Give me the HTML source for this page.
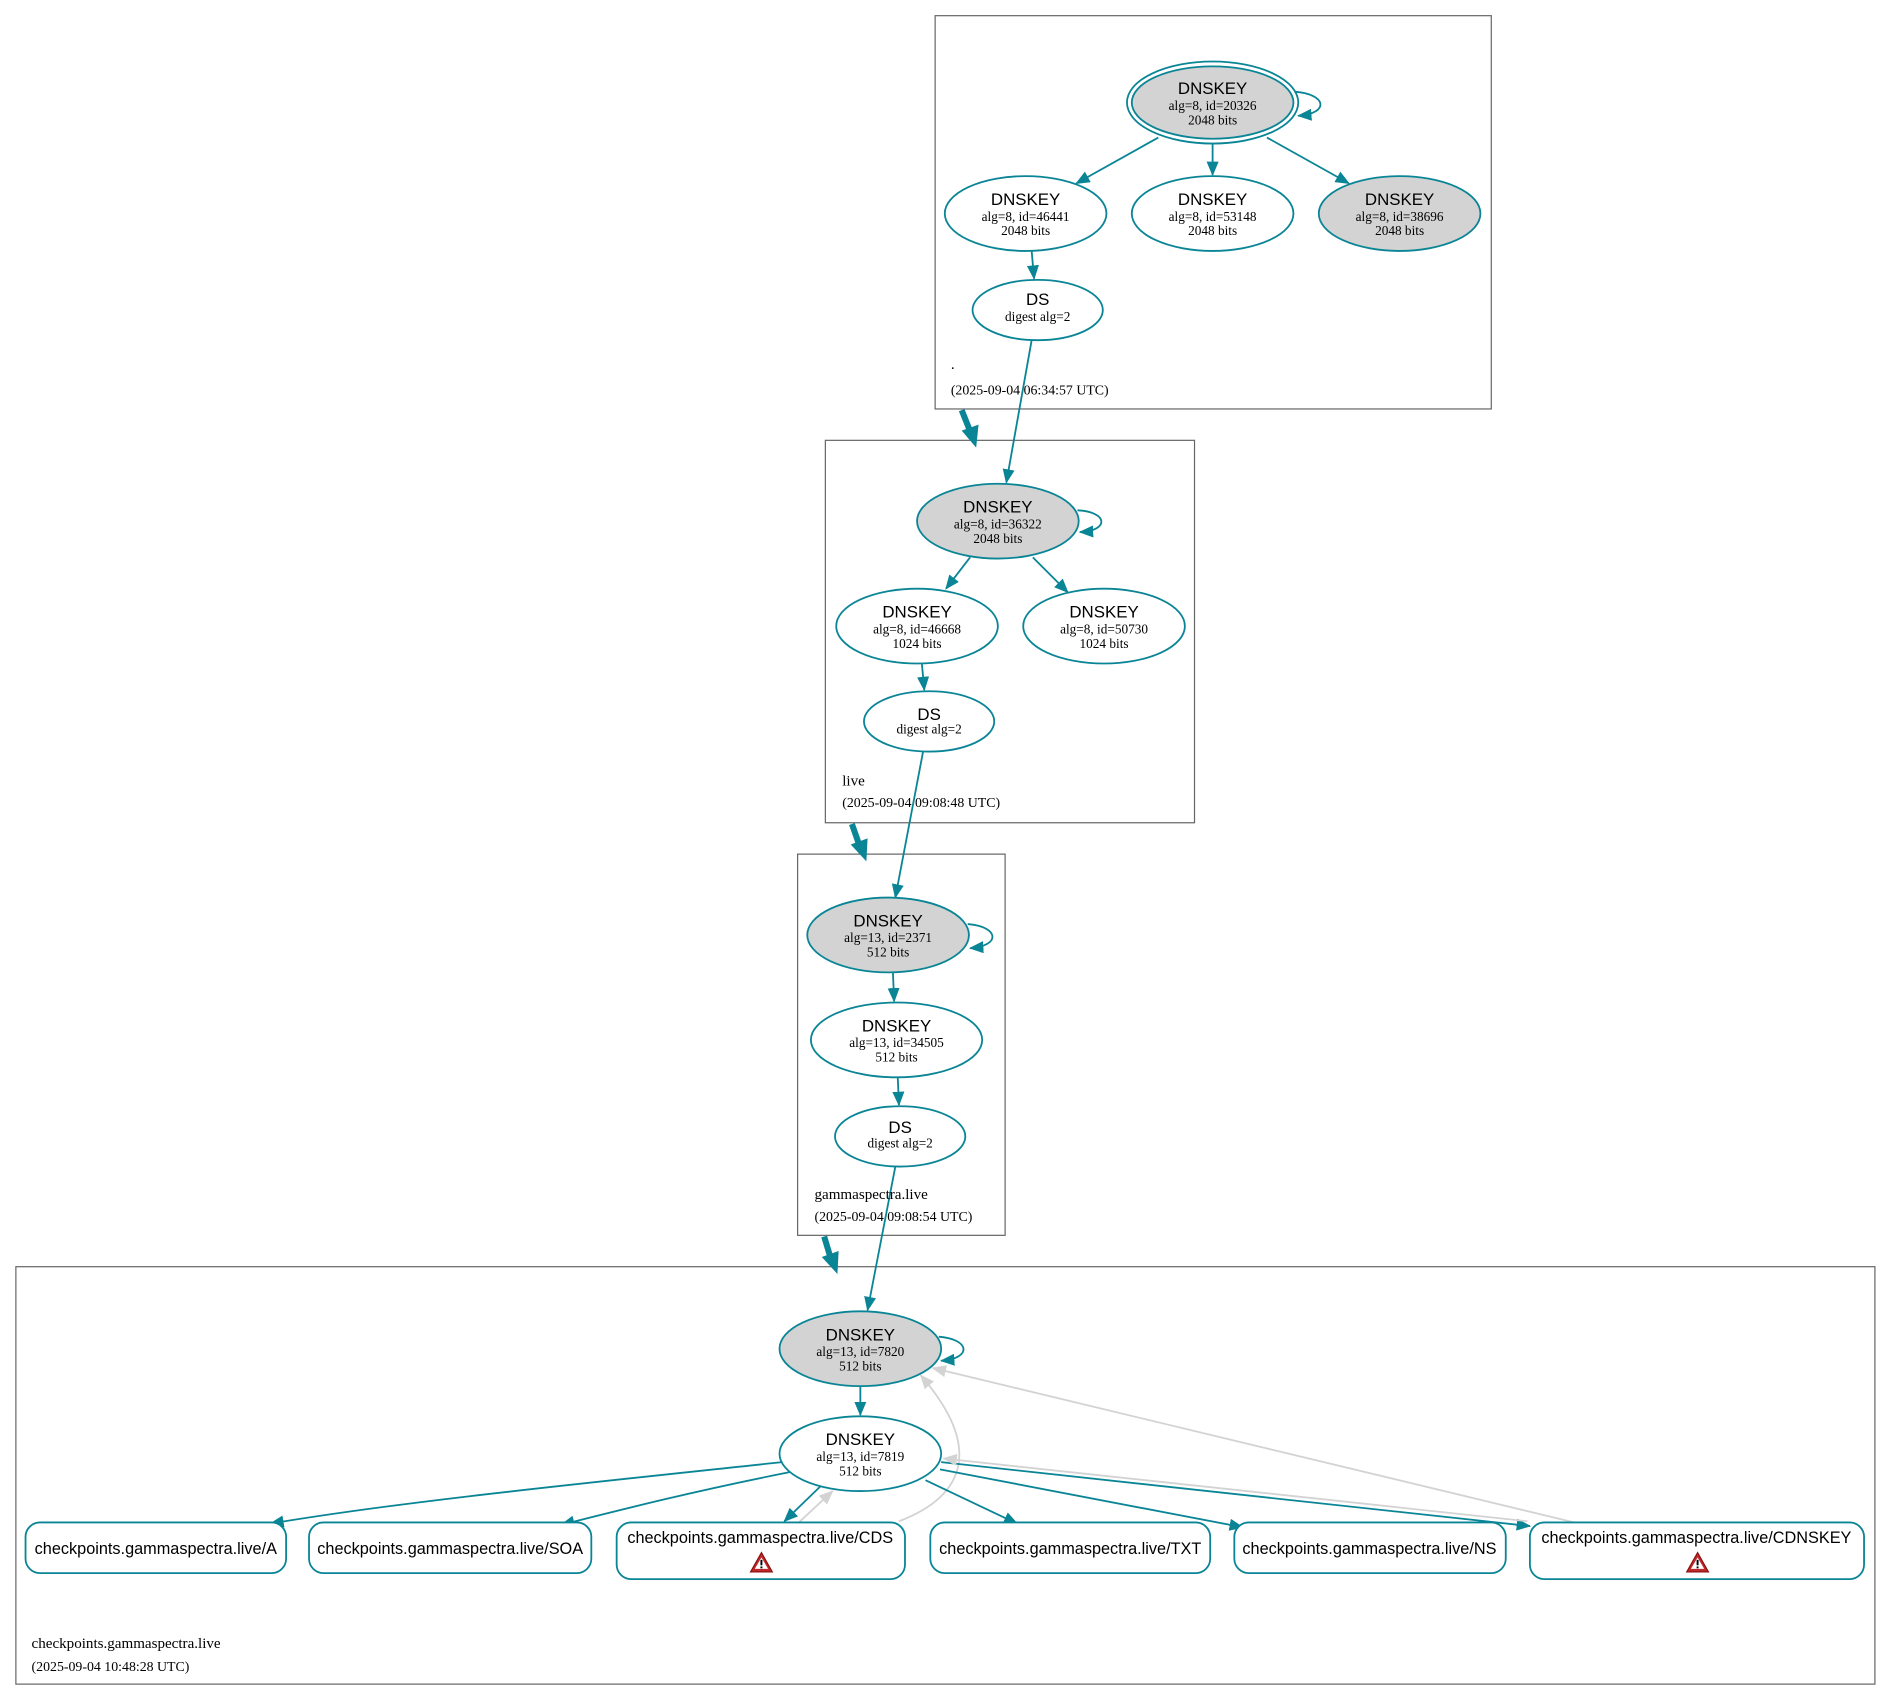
<!DOCTYPE html>
<html><head><meta charset="utf-8"><style>
html,body{margin:0;padding:0;background:#fff;}
svg{display:block;}
.k{font-family:"Liberation Sans",sans-serif;font-size:14px;fill:#000;}
.d{font-family:"Liberation Serif",serif;font-size:11px;fill:#000;}
.c{font-family:"Liberation Serif",serif;font-size:12.5px;fill:#000;}
.cs{font-family:"Liberation Serif",serif;font-size:11.5px;fill:#000;}
.r{font-family:"Liberation Sans",sans-serif;font-size:13.5px;fill:#000;}
.e{fill:none;stroke:#0a8596;stroke-width:1.5;}
.g{fill:none;stroke:#d3d3d3;stroke-width:1.5;}
.n{fill:#fff;stroke:#0a8596;stroke-width:1.5;}
.ng{fill:#d3d3d3;stroke:#0a8596;stroke-width:1.5;}
.cl{fill:none;stroke:#666;stroke-width:1;}
</style></head><body>
<svg width="1892" height="1701" viewBox="0 0 1568 1410" xmlns="http://www.w3.org/2000/svg">
<defs>
<marker id="a" markerWidth="12" markerHeight="10" refX="11" refY="5" orient="auto" markerUnits="userSpaceOnUse"><polygon points="0,0 12,5 0,10" fill="#0a8596"/></marker>
<marker id="ag" markerWidth="12" markerHeight="10" refX="11" refY="5" orient="auto" markerUnits="userSpaceOnUse"><polygon points="0,0 12,5 0,10" fill="#d3d3d3"/></marker>
</defs>
<rect width="1568" height="1410" fill="#fff"/>
<rect class="cl" x="775" y="13" width="461" height="326"/>
<rect class="cl" x="684" y="365" width="306" height="317"/>
<rect class="cl" x="661" y="708" width="172" height="316"/>
<rect class="cl" x="13" y="1050" width="1541" height="346"/>
<line x1="797" y1="340" x2="805" y2="360" stroke="#0a8596" stroke-width="5"/>
<polygon points="797,357 811,352 809,371" fill="#0a8596"/>
<line x1="706" y1="683" x2="713" y2="703" stroke="#0a8596" stroke-width="5"/>
<polygon points="705,700 719,695 718,714" fill="#0a8596"/>
<line x1="683" y1="1025" x2="689" y2="1045" stroke="#0a8596" stroke-width="5"/>
<polygon points="681,1042 695,1037 694,1056" fill="#0a8596"/>
<path class="e" d="M1073,76 C1100,78 1102,94 1076,96" marker-end="url(#a)"/>
<line class="e" x1="960" y1="114" x2="892" y2="152" marker-end="url(#a)"/>
<line class="e" x1="1005" y1="119" x2="1005" y2="145" marker-end="url(#a)"/>
<line class="e" x1="1050" y1="114" x2="1118" y2="152" marker-end="url(#a)"/>
<line class="e" x1="855" y1="208" x2="857" y2="231" marker-end="url(#a)"/>
<line class="e" x1="855" y1="282" x2="834" y2="400" marker-end="url(#a)"/>
<path class="e" d="M893,423 C918,424 920,440 895,441" marker-end="url(#a)"/>
<line class="e" x1="804" y1="462" x2="784" y2="488" marker-end="url(#a)"/>
<line class="e" x1="856" y1="462" x2="885" y2="491" marker-end="url(#a)"/>
<line class="e" x1="764" y1="550" x2="766" y2="572" marker-end="url(#a)"/>
<line class="e" x1="765" y1="623" x2="742" y2="744" marker-end="url(#a)"/>
<path class="e" d="M802,766 C828,768 830,784 804,786" marker-end="url(#a)"/>
<line class="e" x1="740" y1="806" x2="741" y2="830" marker-end="url(#a)"/>
<line class="e" x1="744" y1="893" x2="745" y2="916" marker-end="url(#a)"/>
<line class="e" x1="742" y1="967" x2="719" y2="1086" marker-end="url(#a)"/>
<path class="e" d="M778,1108 C804,1110 806,1126 780,1128" marker-end="url(#a)"/>
<line class="e" x1="713" y1="1149" x2="713" y2="1173" marker-end="url(#a)"/>
<path class="e" d="M648,1212 C480,1230 330,1245 224,1263" marker-end="url(#a)"/>
<path class="e" d="M656,1220 C580,1235 520,1250 465,1264" marker-end="url(#a)"/>
<line class="e" x1="680" y1="1232" x2="650" y2="1261" marker-end="url(#a)"/>
<path class="g" d="M662,1262 L690,1236" marker-end="url(#ag)"/>
<path class="g" d="M745,1261 C800,1240 815,1200 763,1140" marker-end="url(#ag)"/>
<line class="e" x1="767" y1="1227" x2="843" y2="1263" marker-end="url(#a)"/>
<line class="e" x1="779" y1="1218" x2="1030" y2="1266" marker-end="url(#a)"/>
<line class="e" x1="780" y1="1212" x2="1268" y2="1265" marker-end="url(#a)"/>
<line class="g" x1="1266" y1="1261" x2="782" y2="1209" marker-end="url(#ag)"/>
<line class="g" x1="1305" y1="1262" x2="773" y2="1134" marker-end="url(#ag)"/>
<ellipse cx="1005" cy="85" rx="71" ry="34" fill="none" stroke="#0a8596" stroke-width="1.5"/>
<ellipse class="ng" cx="1005" cy="85" rx="67" ry="30"/>
<text class="k" x="1005" y="78" text-anchor="middle">DNSKEY</text>
<text class="d" x="1005" y="91" text-anchor="middle">alg=8, id=20326</text>
<text class="d" x="1005" y="103" text-anchor="middle">2048 bits</text>
<ellipse class="n" cx="850" cy="177" rx="67" ry="31"/>
<text class="k" x="850" y="170" text-anchor="middle">DNSKEY</text>
<text class="d" x="850" y="183" text-anchor="middle">alg=8, id=46441</text>
<text class="d" x="850" y="195" text-anchor="middle">2048 bits</text>
<ellipse class="n" cx="1005" cy="177" rx="67" ry="31"/>
<text class="k" x="1005" y="170" text-anchor="middle">DNSKEY</text>
<text class="d" x="1005" y="183" text-anchor="middle">alg=8, id=53148</text>
<text class="d" x="1005" y="195" text-anchor="middle">2048 bits</text>
<ellipse class="ng" cx="1160" cy="177" rx="67" ry="31"/>
<text class="k" x="1160" y="170" text-anchor="middle">DNSKEY</text>
<text class="d" x="1160" y="183" text-anchor="middle">alg=8, id=38696</text>
<text class="d" x="1160" y="195" text-anchor="middle">2048 bits</text>
<ellipse class="n" cx="860" cy="257" rx="54" ry="25"/>
<text class="k" x="860" y="253" text-anchor="middle">DS</text>
<text class="d" x="860" y="266" text-anchor="middle">digest alg=2</text>
<text class="c" x="788" y="306">.</text>
<text class="cs" x="788" y="327">(2025-09-04 06:34:57 UTC)</text>
<ellipse class="ng" cx="827" cy="432" rx="67" ry="31"/>
<text class="k" x="827" y="425" text-anchor="middle">DNSKEY</text>
<text class="d" x="827" y="438" text-anchor="middle">alg=8, id=36322</text>
<text class="d" x="827" y="450" text-anchor="middle">2048 bits</text>
<ellipse class="n" cx="760" cy="519" rx="67" ry="31"/>
<text class="k" x="760" y="512" text-anchor="middle">DNSKEY</text>
<text class="d" x="760" y="525" text-anchor="middle">alg=8, id=46668</text>
<text class="d" x="760" y="537" text-anchor="middle">1024 bits</text>
<ellipse class="n" cx="915" cy="519" rx="67" ry="31"/>
<text class="k" x="915" y="512" text-anchor="middle">DNSKEY</text>
<text class="d" x="915" y="525" text-anchor="middle">alg=8, id=50730</text>
<text class="d" x="915" y="537" text-anchor="middle">1024 bits</text>
<ellipse class="n" cx="770" cy="598" rx="54" ry="25"/>
<text class="k" x="770" y="597" text-anchor="middle">DS</text>
<text class="d" x="770" y="608" text-anchor="middle">digest alg=2</text>
<text class="c" x="698" y="651">live</text>
<text class="cs" x="698" y="669">(2025-09-04 09:08:48 UTC)</text>
<ellipse class="ng" cx="736" cy="775" rx="67" ry="31"/>
<text class="k" x="736" y="768" text-anchor="middle">DNSKEY</text>
<text class="d" x="736" y="781" text-anchor="middle">alg=13, id=2371</text>
<text class="d" x="736" y="793" text-anchor="middle">512 bits</text>
<ellipse class="n" cx="743" cy="862" rx="71" ry="31"/>
<text class="k" x="743" y="855" text-anchor="middle">DNSKEY</text>
<text class="d" x="743" y="868" text-anchor="middle">alg=13, id=34505</text>
<text class="d" x="743" y="880" text-anchor="middle">512 bits</text>
<ellipse class="n" cx="746" cy="942" rx="54" ry="25"/>
<text class="k" x="746" y="939" text-anchor="middle">DS</text>
<text class="d" x="746" y="951" text-anchor="middle">digest alg=2</text>
<text class="c" x="675" y="994">gammaspectra.live</text>
<text class="cs" x="675" y="1012">(2025-09-04 09:08:54 UTC)</text>
<ellipse class="ng" cx="713" cy="1118" rx="67" ry="31"/>
<text class="k" x="713" y="1111" text-anchor="middle">DNSKEY</text>
<text class="d" x="713" y="1124" text-anchor="middle">alg=13, id=7820</text>
<text class="d" x="713" y="1136" text-anchor="middle">512 bits</text>
<ellipse class="n" cx="713" cy="1205" rx="67" ry="31"/>
<text class="k" x="713" y="1198" text-anchor="middle">DNSKEY</text>
<text class="d" x="713" y="1211" text-anchor="middle">alg=13, id=7819</text>
<text class="d" x="713" y="1223" text-anchor="middle">512 bits</text>
<rect class="n" x="21" y="1262" width="216" height="42" rx="12"/>
<text class="r" x="129" y="1288" text-anchor="middle">checkpoints.gammaspectra.live/A</text>
<rect class="n" x="256" y="1262" width="234" height="42" rx="12"/>
<text class="r" x="373" y="1288" text-anchor="middle">checkpoints.gammaspectra.live/SOA</text>
<rect class="n" x="511" y="1262" width="239" height="47" rx="12"/>
<text class="r" x="630" y="1279" text-anchor="middle">checkpoints.gammaspectra.live/CDS</text>
<polygon points="631,1287 622,1303 640,1303" fill="#c0282b" stroke="#8a1010" stroke-width="1"/>
<polygon points="631,1291 625.5,1300.5 636.5,1300.5" fill="#fff"/>
<rect x="630.2" y="1293" width="1.6" height="4.5" fill="#000"/><rect x="630.2" y="1298.5" width="1.6" height="1.5" fill="#000"/>
<rect class="n" x="771" y="1262" width="232" height="42" rx="12"/>
<text class="r" x="887" y="1288" text-anchor="middle">checkpoints.gammaspectra.live/TXT</text>
<rect class="n" x="1023" y="1262" width="225" height="42" rx="12"/>
<text class="r" x="1135" y="1288" text-anchor="middle">checkpoints.gammaspectra.live/NS</text>
<rect class="n" x="1268" y="1262" width="277" height="47" rx="12"/>
<text class="r" x="1406" y="1279" text-anchor="middle">checkpoints.gammaspectra.live/CDNSKEY</text>
<polygon points="1407,1287 1398,1303 1416,1303" fill="#c0282b" stroke="#8a1010" stroke-width="1"/>
<polygon points="1407,1291 1401.5,1300.5 1412.5,1300.5" fill="#fff"/>
<rect x="1406.2" y="1293" width="1.6" height="4.5" fill="#000"/><rect x="1406.2" y="1298.5" width="1.6" height="1.5" fill="#000"/>
<text class="c" x="26" y="1366">checkpoints.gammaspectra.live</text>
<text class="cs" x="26" y="1385">(2025-09-04 10:48:28 UTC)</text>
</svg>
</body></html>
